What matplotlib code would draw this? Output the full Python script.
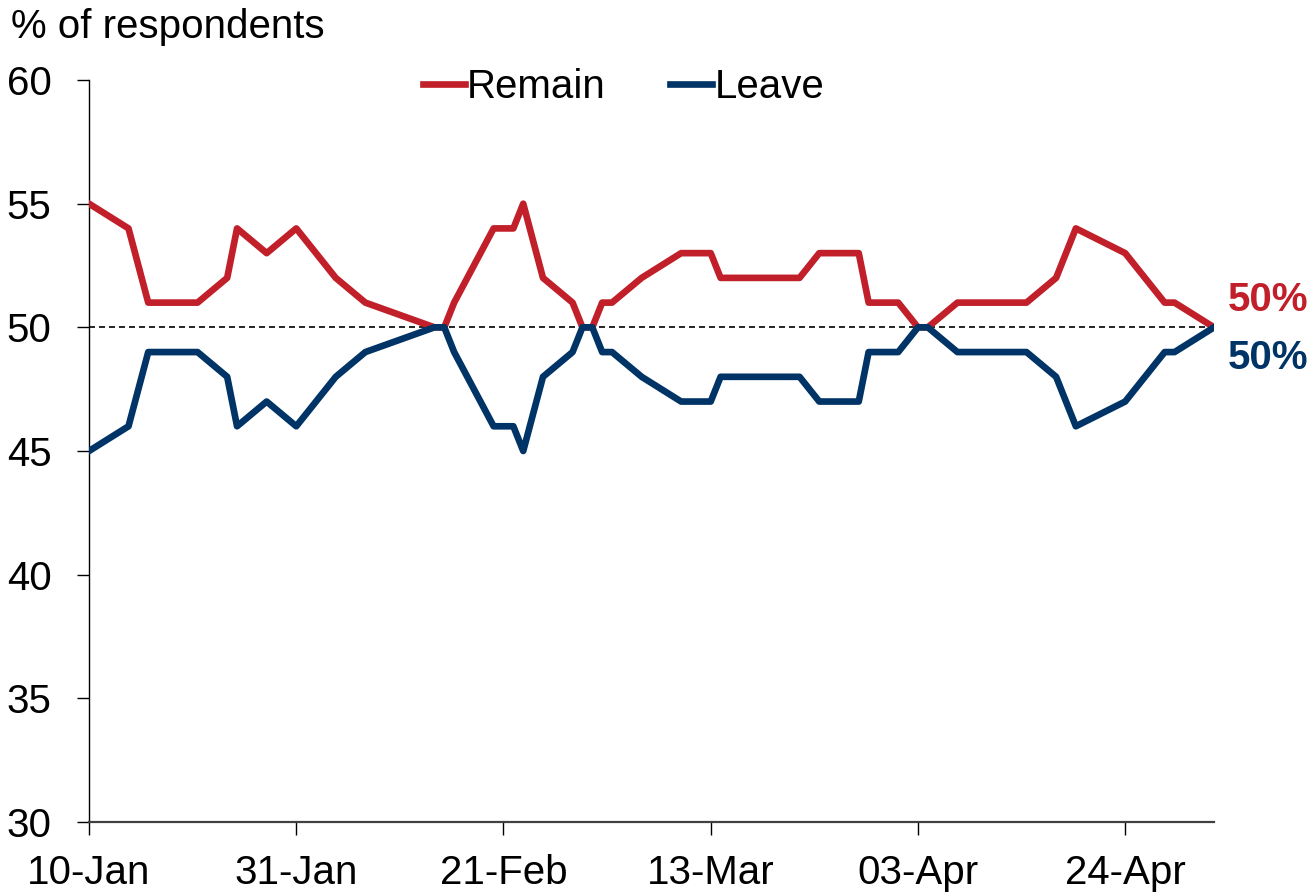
import matplotlib
matplotlib.use('Agg')
import matplotlib.pyplot as plt
import matplotlib.dates as mdates
import pandas as pd

plt.rcParams['font.family'] = ['Liberation Sans', 'DejaVu Sans']

# poll dates (2016) and shares for each side
dates = ['2016-01-10', '2016-01-14', '2016-01-16', '2016-01-21', '2016-01-24', '2016-01-25',
         '2016-01-28', '2016-01-31', '2016-02-04', '2016-02-07', '2016-02-14', '2016-02-15',
         '2016-02-16', '2016-02-20', '2016-02-22', '2016-02-23', '2016-02-25', '2016-02-28',
         '2016-02-29', '2016-03-01', '2016-03-02', '2016-03-03', '2016-03-06', '2016-03-10',
         '2016-03-13', '2016-03-14', '2016-03-22', '2016-03-24', '2016-03-28', '2016-03-29',
         '2016-04-01', '2016-04-03', '2016-04-04', '2016-04-07', '2016-04-14', '2016-04-17',
         '2016-04-19', '2016-04-24', '2016-04-28', '2016-04-29', '2016-05-03']
remain = [55, 54, 51, 51, 52, 54, 53, 54, 52, 51, 50, 50, 51, 54, 54, 55, 52, 51, 50, 50, 51,
          51, 52, 53, 53, 52, 52, 53, 53, 51, 51, 50, 50, 51, 51, 52, 54, 53, 51, 51, 50]
leave = [45, 46, 49, 49, 48, 46, 47, 46, 48, 49, 50, 50, 49, 46, 46, 45, 48, 49, 50, 50, 49,
         49, 48, 47, 47, 48, 48, 47, 47, 49, 49, 50, 50, 49, 49, 48, 46, 47, 49, 49, 50]
tick_dates = ['2016-01-10', '2016-01-31', '2016-02-21', '2016-03-13', '2016-04-03', '2016-04-24']

x = pd.to_datetime(dates)
red = '#C1202A'
navy = '#003366'

fig = plt.figure(figsize=(13.15, 8.93), dpi=100)
ax = fig.add_axes([0.0677, 0.0795, 0.8555, 0.8309])

ax.axhline(50, color='black', lw=1.2, ls=(0, (3.6, 2.4)), zorder=1)
ax.plot(x, remain, color=red, lw=4.8, label='Remain', zorder=3)
ax.plot(x, leave, color=navy, lw=4.8, label='Leave', zorder=3)

ax.set_xlim(x[0], x[-1])
ax.set_ylim(30, 60)
ax.set_yticks(range(30, 61, 5))
ax.set_xticks(pd.to_datetime(tick_dates))
ax.xaxis.set_major_formatter(mdates.DateFormatter('%d-%b'))

for s in ['top', 'right']:
    ax.spines[s].set_visible(False)
ax.spines['left'].set_color('black')
ax.spines['left'].set_linewidth(1.0)
ax.spines['bottom'].set_color('#404040')
ax.spines['bottom'].set_linewidth(1.6)
ax.tick_params(axis='both', direction='out', length=9, width=1.0, labelsize=29, colors='black')
ax.tick_params(axis='x', pad=14)
ax.tick_params(axis='y', pad=18)

fig.text(0.008, 0.97, '% of respondents', fontsize=29, ha='left', va='center')

ax.legend(loc='upper center', bbox_to_anchor=(0.475, 1.065), ncol=2, frameon=False,
          fontsize=29, handlelength=1.05, handletextpad=0.05, columnspacing=1.6)

# end-point labels
ax.annotate(f'{remain[-1]}%', xy=(x[-1], remain[-1]), xytext=(10, 20), textcoords='offset points',
            color=red, fontsize=29, fontweight='bold', va='center', ha='left', annotation_clip=False)
ax.annotate(f'{leave[-1]}%', xy=(x[-1], leave[-1]), xytext=(10, -22), textcoords='offset points',
            color=navy, fontsize=29, fontweight='bold', va='center', ha='left', annotation_clip=False)

fig.savefig('out.png', dpi=100)
